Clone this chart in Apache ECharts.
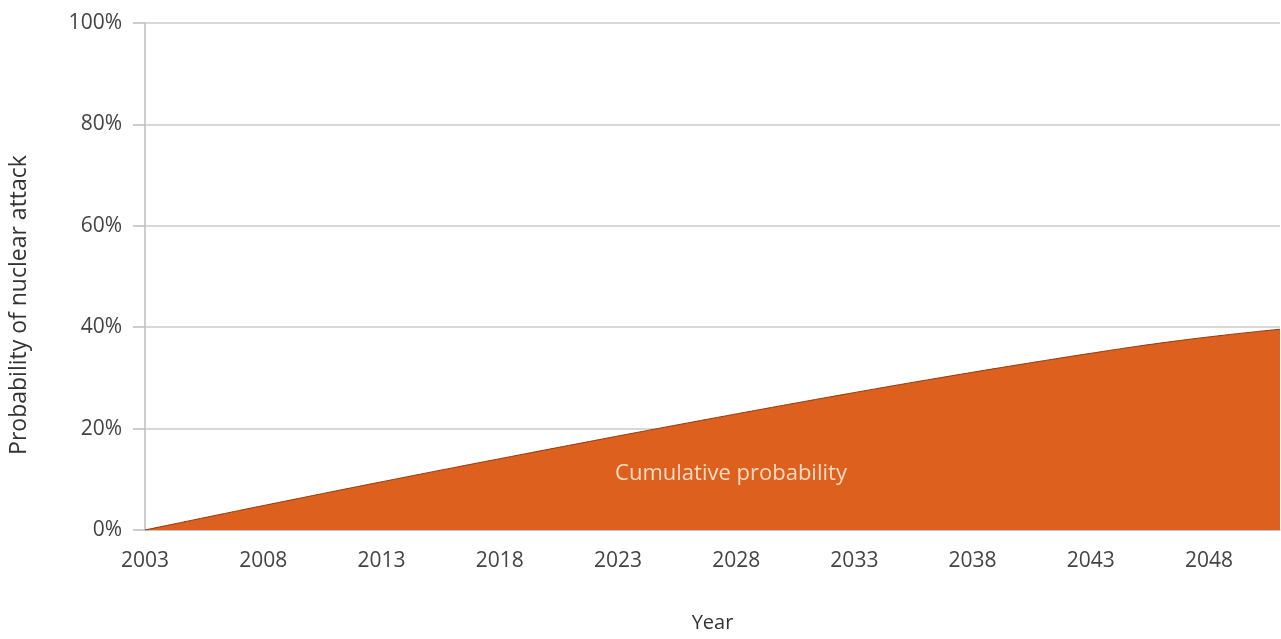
<!DOCTYPE html>
<html>
<head>
<meta charset="utf-8">
<script src="https://cdn.jsdelivr.net/npm/echarts@6/dist/echarts.min.js"></script>
<style>
html,body{margin:0;padding:0;background:#fff;width:100%;height:100%;overflow:hidden;}
#chart{width:100vw;height:100vh;}
</style>
</head>
<body>
<div id="chart"></div>
<script>
// Categories: years
var years = ['2003','2004','2005','2006','2007','2008','2009','2010','2011','2012',
  '2013','2014','2015','2016','2017','2018','2019','2020','2021','2022',
  '2023','2024','2025','2026','2027','2028','2029','2030','2031','2032',
  '2033','2034','2035','2036','2037','2038','2039','2040','2041','2042',
  '2043','2044','2045','2046','2047','2048','2049','2050','2051'];
// Cumulative probability of nuclear attack (%)
var cumulative = [0, 0.97, 1.94, 2.90, 3.86, 4.81, 5.76, 6.70, 7.64, 8.57,
  9.50, 10.42, 11.34, 12.25, 13.16, 14.06, 14.96, 15.86, 16.75, 17.64,
  18.53, 19.41, 20.29, 21.16, 22.03, 22.89, 23.75, 24.60, 25.44, 26.28,
  27.11, 27.93, 28.74, 29.54, 30.33, 31.11, 31.88, 32.64, 33.39, 34.13,
  34.85, 35.57, 36.26, 36.91, 37.52, 38.09, 38.62, 39.12, 39.60];
var seriesName = 'Cumulative probability';
var xTitle = 'Year';
var yTitle = 'Probability of nuclear attack';

var el = document.getElementById('chart');
var chart = echarts.init(el);
var font = '"Open Sans", Lato, sans-serif';
chart.setOption({
  animation: false,
  backgroundColor: '#ffffff',
  grid: {left: 145, right: 1, top: 23, bottom: 109, containLabel: false},
  xAxis: {
    type: 'category',
    data: years,
    boundaryGap: false,
    name: xTitle,
    nameLocation: 'middle',
    nameGap: 83,
    nameTextStyle: {fontFamily: font, fontSize: 20, lineHeight: 20, color: '#333'},
    axisLine: {show: true, lineStyle: {color: '#bdbdbd', width: 1.5}},
    axisTick: {show: false},
    axisLabel: {interval: 4, margin: 21, fontFamily: font, fontSize: 21, lineHeight: 21, color: '#444'},
    splitLine: {show: false}
  },
  yAxis: {
    type: 'value',
    min: 0, max: 100, interval: 20,
    axisLine: {show: true, lineStyle: {color: '#bdbdbd', width: 1.5}},
    axisTick: {show: true, length: 12, lineStyle: {color: '#bdbdbd', width: 1.5}},
    axisLabel: {margin: 23, fontFamily: font, fontSize: 21, color: '#444',
      formatter: function (v) { return v + '%'; }},
    splitLine: {show: true, lineStyle: {color: '#cccccc', width: 1.5}}
  },
  series: [{
    name: seriesName,
    type: 'line',
    data: cumulative,
    symbol: 'none',
    smooth: 0.2,
    lineStyle: {color: '#8a3a12', width: 1},
    areaStyle: {color: '#dd601e', opacity: 1},
    z: 3
  }],
  graphic: [
    {
      type: 'text',
      z: 100,
      x: 731, y: 474,
      style: {text: seriesName, fill: '#f8dcc4', font: '22px ' + font, align: 'center', verticalAlign: 'middle'}
    },
    {
      type: 'text',
      z: 100,
      x: 19, y: 305,
      rotation: Math.PI / 2,
      style: {text: yTitle, fill: '#333', font: '23px ' + font, align: 'center', verticalAlign: 'middle'}
    }
  ]
});
</script>
</body>
</html>
